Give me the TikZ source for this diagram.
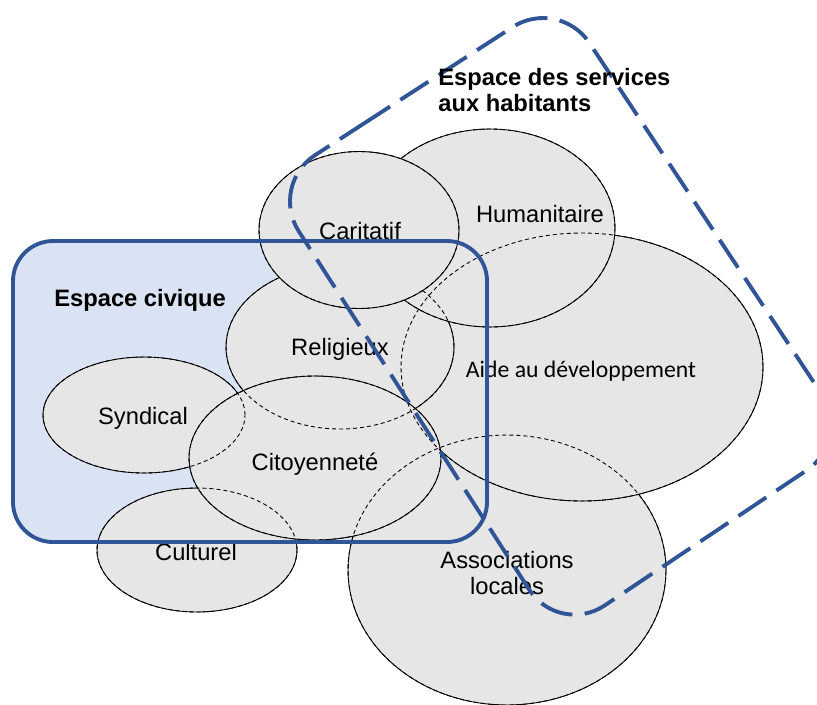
\documentclass[tikz,border=0pt]{standalone}
\usepackage{fontspec}
\setmainfont{Liberation Sans}
\newfontfamily\calibri{Carlito}
\usepackage{tikz}
\definecolor{grisbulle}{RGB}{230, 230, 230}
\definecolor{bleufond}{RGB}{218, 227, 243}
\definecolor{bleutrait}{RGB}{47, 85, 151}
\usetikzlibrary{shapes.geometric}

\begin{document}
\begin{tikzpicture}[
    x=0.02cm, y=-0.02cm,
    bulle/.style={ellipse, draw=black, fill=grisbulle, line width=0.5pt, inner sep=0pt},
    contour/.style={ellipse, draw=black, dash pattern=on 2.3pt off 1.7pt, line width=0.5pt, inner sep=0pt},
    etiquette/.style={font=\fontsize{13.5}{15.3}\selectfont, inner sep=0pt, align=center},
    titre/.style={font=\fontsize{13.5}{15.3}\selectfont\bfseries, inner sep=0pt, align=left, anchor=west},
    t-asso/.style={minimum width=6.36cm, minimum height=5.4cm},
    t-aide/.style={minimum width=7.24cm, minimum height=5.36cm},
    t-cult/.style={minimum width=4cm, minimum height=2.48cm},
    t-synd/.style={minimum width=4.04cm, minimum height=2.32cm},
    t-reli/.style={minimum width=4.56cm, minimum height=3.28cm},
    t-huma/.style={minimum width=5cm, minimum height=3.96cm},
    t-cito/.style={minimum width=5.04cm, minimum height=3.28cm},
    t-cari/.style={minimum width=4cm, minimum height=3.14cm}
]
    \clip (0,0) rectangle (817,704);

    % Espace civique (fond)
    \coordinate (civ-no) at (13,241);
    \coordinate (civ-se) at (487,542);
    \fill[bleufond, rounded corners=0.8cm] (civ-no) rectangle (civ-se);

    % Bulles
    \node[bulle, t-asso] (asso) at (507,570) {};
    \node[bulle, t-aide] (aide) at (582,367) {};
    \node[bulle, t-cult] (cult) at (197,550) {};
    \node[bulle, t-synd] (synd) at (144,415) {};
    \node[bulle, t-reli] (reli) at (340,347) {};
    \node[bulle, t-huma] (huma) at (490,228) {};
    \node[bulle, t-cito] (cito) at (315,458) {};

    % Contours caches
    \node[contour, t-asso] at (asso) {};
    \node[contour, t-aide] at (aide) {};
    \node[contour, t-cult] at (cult) {};
    \node[contour, t-synd] at (synd) {};
    \node[contour, t-reli] at (reli) {};
    \node[contour, t-huma] at (huma) {};
    \node[contour, t-cito] at (cito) {};

    \node[bulle, t-cari] (cari) at (359,230) {};
    \node[contour, t-cari] at (cari) {};

    % Noms des bulles
    \node[etiquette, anchor=base] (l-cari) at (360,239) {Caritatif};
    \node[etiquette, anchor=base] (l-huma) at (540,222) {Humanitaire};
    \node[etiquette, anchor=base] (l-reli) at (340,355) {Religieux};
    \node[etiquette, anchor=base, font=\fontsize{13.5}{15.3}\selectfont\calibri] (l-aide) at (581,377) {Aide au développement};
    \node[etiquette, anchor=base] (l-synd) at (143,424) {Syndical};
    \node[etiquette, anchor=base] (l-cito) at (315,470) {Citoyenneté};
    \node[etiquette, anchor=base] (l-cult) at (196,560) {Culturel};
    \node[etiquette] (l-asso) at (507,573) {Associations\\locales};

    % Espace civique (bord)
    \draw[bleutrait, line width=2.2pt, rounded corners=0.8cm] (civ-no) rectangle (civ-se);
    \node[titre] (t-civ) at (54,300) {Espace civique};

    % Espace des services aux habitants
    \coordinate (serv-m) at (414,91);
    \coordinate (serv-g) at (269,185);
    \coordinate (serv-b) at (559,636);
    \coordinate (serv-d) at (852,440);
    \coordinate (serv-h) at (559,-3);
    \draw[bleutrait, line width=2.2pt, dash pattern=on 19pt off 7pt, rounded corners=1.1cm]
        (serv-m) -- (serv-g) -- (serv-b) -- (serv-d) -- (serv-h) -- cycle;
    \node[titre] (t-serv) at (438,90) {Espace des services\\aux habitants};
\end{tikzpicture}
\end{document}
